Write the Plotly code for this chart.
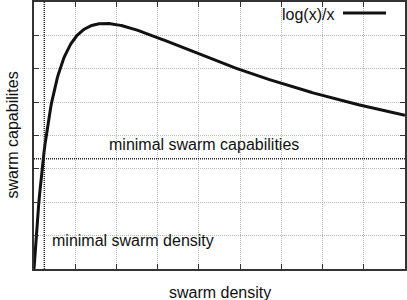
import numpy as np
import plotly.graph_objects as go

x_min, x_max = 1.0, 10.0
y_min, y_max = 0.0, 0.4
min_density = 1.25
min_capability = 0.165
series_name = "log(x)/x"

xs = np.linspace(x_min, x_max, 400)
ys = np.log(xs) / xs

fig = go.Figure()
fig.add_trace(go.Scatter(x=xs, y=ys, mode="lines", name=series_name,
                         line=dict(color="#111111", width=3), showlegend=False))
fig.add_trace(go.Scatter(x=[x_min, x_max], y=[min_capability, min_capability], mode="lines",
                         line=dict(color="#222222", width=1.5, dash="1px,1px"), showlegend=False))
fig.add_trace(go.Scatter(x=[min_density, min_density], y=[y_min, y_max], mode="lines",
                         line=dict(color="#222222", width=1.5, dash="1px,1px"), showlegend=False))

font = dict(family="Liberation Sans, Arial, sans-serif", size=16, color="#111111")

W, H = 407, 300
L, R, T, B = 34, 2, 2, 31
pw, ph = W - L - R, H - T - B

def px(xp):
    return (xp - L) / pw

def py(yp):
    return (H - B - yp) / ph

fig.add_annotation(x=5.13, y=min_capability, yshift=14, text="minimal swarm capabilities",
                   showarrow=False, xanchor="center", font=font)
fig.add_annotation(x=min_density, xshift=6, y=0.042, text="minimal swarm density",
                   showarrow=False, xanchor="left", font=font)
# legend (text left of sample line)
fig.add_annotation(x=px(336), y=py(14), xref="paper", yref="paper", text=series_name,
                   showarrow=False, xanchor="right", yanchor="middle", font=font)
fig.add_shape(type="line", xref="paper", yref="paper", x0=px(343), x1=px(386),
              y0=py(13), y1=py(13), line=dict(color="#111111", width=3))
# axis titles
fig.add_annotation(x=0.5, y=py(292), xref="paper", yref="paper", text="swarm density",
                   showarrow=False, xanchor="center", yanchor="middle", font=font)
fig.add_annotation(x=px(12), y=0.5, xref="paper", yref="paper", text="swarm capabilites",
                   showarrow=False, xanchor="center", yanchor="middle", textangle=-90, font=font)

axis_common = dict(showticklabels=False, ticks="inside", ticklen=5, tickcolor="#333333",
                   showline=True, linecolor="#333333", linewidth=1.5, mirror="ticks",
                   showgrid=True, gridcolor="#b8b8b8", griddash="1px,1px", gridwidth=1,
                   zeroline=False, automargin=False)
fig.update_xaxes(range=[x_min, x_max], dtick=1, tick0=0, **axis_common)
fig.update_yaxes(range=[y_min, y_max], dtick=0.05, tick0=0, **axis_common)

fig.update_layout(width=W, height=H, margin=dict(l=L, r=R, t=T, b=B),
                  plot_bgcolor="white", paper_bgcolor="white", font=font)
fig.write_html("out.html", config={"displayModeBar": False},
               post_script="document.body.style.margin='0';document.body.style.overflow='hidden';")
